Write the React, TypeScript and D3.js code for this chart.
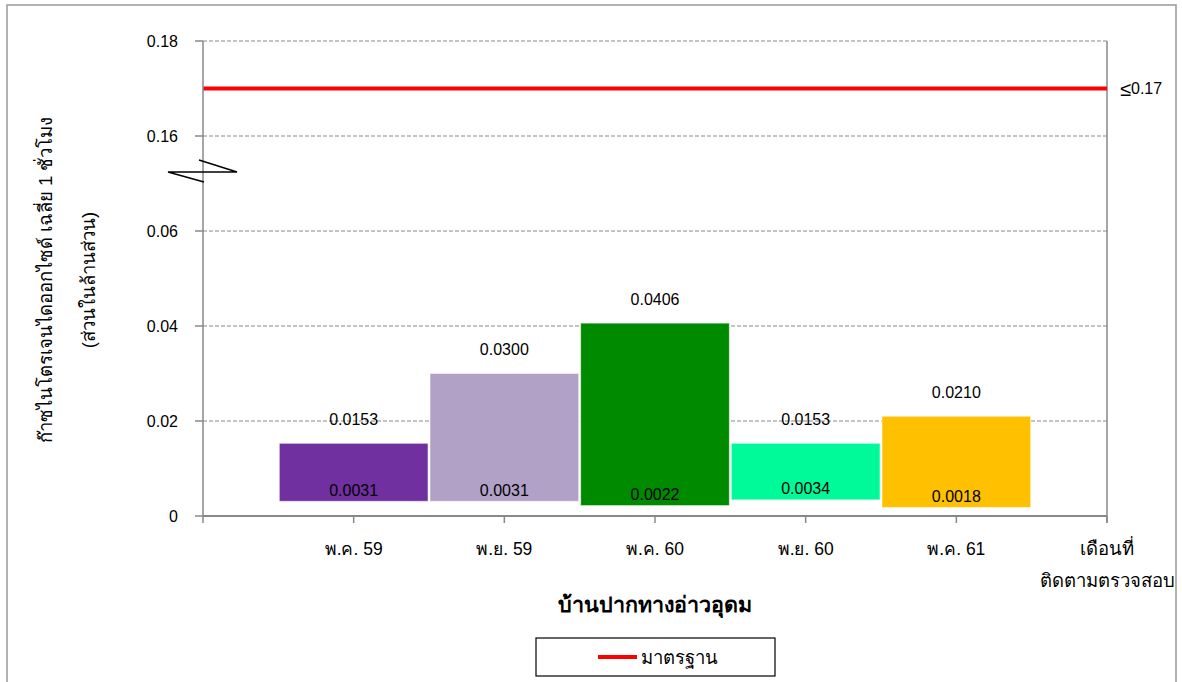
import React from "react";
import * as d3 from "d3";

const categories = ["พ.ค. 59", "พ.ย. 59", "พ.ค. 60", "พ.ย. 60", "พ.ค. 61"];
const minValues = [0.0031, 0.0031, 0.0022, 0.0034, 0.0018];
const maxValues = [0.0153, 0.03, 0.0406, 0.0153, 0.021];
const barColors = ["#7030A0", "#B2A1C7", "#008A00", "#00FA9A", "#FFC000"];
const lowerTicks = [0, 0.02, 0.04, 0.06];
const upperTicks = [0.16, 0.18];
const standardValue = 0.17;
const standardLabel = "0.17";
const breakGap = 0.08;

const yTitle1 = "ก๊าซไนโตรเจนไดออกไซด์ เฉลี่ย 1 ชั่วโมง";
const yTitle2 = "(ส่วนในล้านส่วน)";
const xTitle = "บ้านปากทางอ่าวอุดม";
const xEndLabel1 = "เดือนที่";
const xEndLabel2 = "ติดตามตรวจสอบ";
const legendLabel = "มาตรฐาน";

export default function App() {
  const W = 1182;
  const H = 682;
  const left = 203;
  const right = 1107;
  const top = 41;
  const bottom = 516;
  const font = "Arial, 'Liberation Sans', sans-serif";

  const yLin = d3.scaleLinear().domain([0, 0.1]).range([bottom, top]);
  const y = (v: number) => (v > 0.1 ? yLin(v - breakGap) : yLin(v));

  const x = d3
    .scaleLinear()
    .domain([0, categories.length + 1])
    .range([left, right]);
  const step = x(1) - x(0);

  const allTicks = [...lowerTicks, ...upperTicks];
  const tickIdx = d3.range(categories.length + 2);

  const breakY = 172;

  return (
    <svg width={W} height={H} style={{ position: "absolute", left: 0, top: 0 }}>
      <rect x={0} y={0} width={W} height={H} fill="#fff" />
      <rect x={7} y={5} width={1169} height={690} fill="none" stroke="#999" strokeWidth={1.5} />

      {/* grid lines */}
      {allTicks.filter((t) => t !== 0).map((t) => (
        <line key={"g" + t} x1={left} x2={right} y1={y(t)} y2={y(t)} stroke="#888" strokeWidth={1} strokeDasharray="4,2" />
      ))}
      {/* right vertical */}
      <line x1={right} x2={right} y1={top} y2={bottom + 7} stroke="#888" strokeWidth={1.5} />

      {/* bars */}
      {categories.map((c, i) => {
        const cx = x(i + 1);
        const y0 = y(minValues[i]);
        const y1 = y(maxValues[i]);
        return (
          <g key={c}>
            <rect x={cx - step / 2 + 1} y={y1} width={step - 2} height={y0 - y1} fill={barColors[i]} stroke="#fff" strokeOpacity={0.5} strokeWidth={1} />
            <text x={cx} y={y1 - 24} textAnchor="middle" dominantBaseline="central" fontFamily={font} fontSize={16} fill="#000">
              {maxValues[i].toFixed(4)}
            </text>
            <text x={cx} y={y0 - 11} textAnchor="middle" dominantBaseline="central" fontFamily={font} fontSize={16} fill="#000">
              {minValues[i].toFixed(4)}
            </text>
          </g>
        );
      })}

      {/* standard line */}
      <line x1={left} x2={right} y1={y(standardValue)} y2={y(standardValue)} stroke="#FF0000" strokeWidth={4} />
      <text x={1120} y={y(standardValue)} dominantBaseline="central" fontFamily={font} fontSize={16} fill="#000">
        <tspan fontSize={20}>≤</tspan>
        {standardLabel}
      </text>

      {/* y axis */}
      <line x1={left} x2={left} y1={top} y2={bottom} stroke="#888" strokeWidth={1.5} />
      {allTicks.map((t) => (
        <g key={"t" + t}>
          <line x1={left - 8} x2={left} y1={y(t)} y2={y(t)} stroke="#888" strokeWidth={1.5} />
          <text x={178} y={y(t)} textAnchor="end" dominantBaseline="central" fontFamily={font} fontSize={16} fill="#000">
            {t === 0 ? "0" : t.toFixed(2)}
          </text>
        </g>
      ))}

      {/* x axis */}
      <line x1={left} x2={right} y1={bottom} y2={bottom} stroke="#888" strokeWidth={2} />
      {tickIdx.map((k) => (
        <line key={"xt" + k} x1={x(k)} x2={x(k)} y1={bottom} y2={bottom + 7} stroke="#888" strokeWidth={1.5} />
      ))}
      {categories.map((c, i) => (
        <text key={"xl" + c} x={x(i + 1)} y={549} textAnchor="middle" dominantBaseline="central" fontFamily={font} fontSize={17.5} fill="#000">
          {c}
        </text>
      ))}
      <text x={right} y={548} textAnchor="middle" dominantBaseline="central" fontFamily={font} fontSize={18.5} fill="#000">
        {xEndLabel1}
      </text>
      <text x={right} y={580} textAnchor="middle" dominantBaseline="central" fontFamily={font} fontSize={18.5} fill="#000">
        {xEndLabel2}
      </text>

      {/* axis break */}
      <path
        d={`M${left - 4},${breakY - 12} L${left + 34},${breakY} L${left - 35},${breakY} L${left + 1},${breakY + 10}`}
        fill="none"
        stroke="#000"
        strokeWidth={1.5}
      />

      {/* y title */}
      <text transform={`translate(45,${280}) rotate(-90)`} textAnchor="middle" dominantBaseline="central" fontFamily={font} fontSize={18.5} fill="#000">
        {yTitle1}
      </text>
      <text transform={`translate(88,${280}) rotate(-90)`} textAnchor="middle" dominantBaseline="central" fontFamily={font} fontSize={18.5} fill="#000">
        {yTitle2}
      </text>

      {/* x title */}
      <text x={655} y={605} textAnchor="middle" dominantBaseline="central" fontFamily={font} fontSize={21.5} fontWeight="bold" fill="#000">
        {xTitle}
      </text>

      {/* legend */}
      <rect x={536} y={638} width={239} height={38} fill="#fff" stroke="#000" strokeWidth={1.2} />
      <line x1={598} x2={637} y1={657} y2={657} stroke="#FF0000" strokeWidth={4} />
      <text x={641} y={657} dominantBaseline="central" fontFamily={font} fontSize={18.5} fill="#000">
        {legendLabel}
      </text>
    </svg>
  );
}
